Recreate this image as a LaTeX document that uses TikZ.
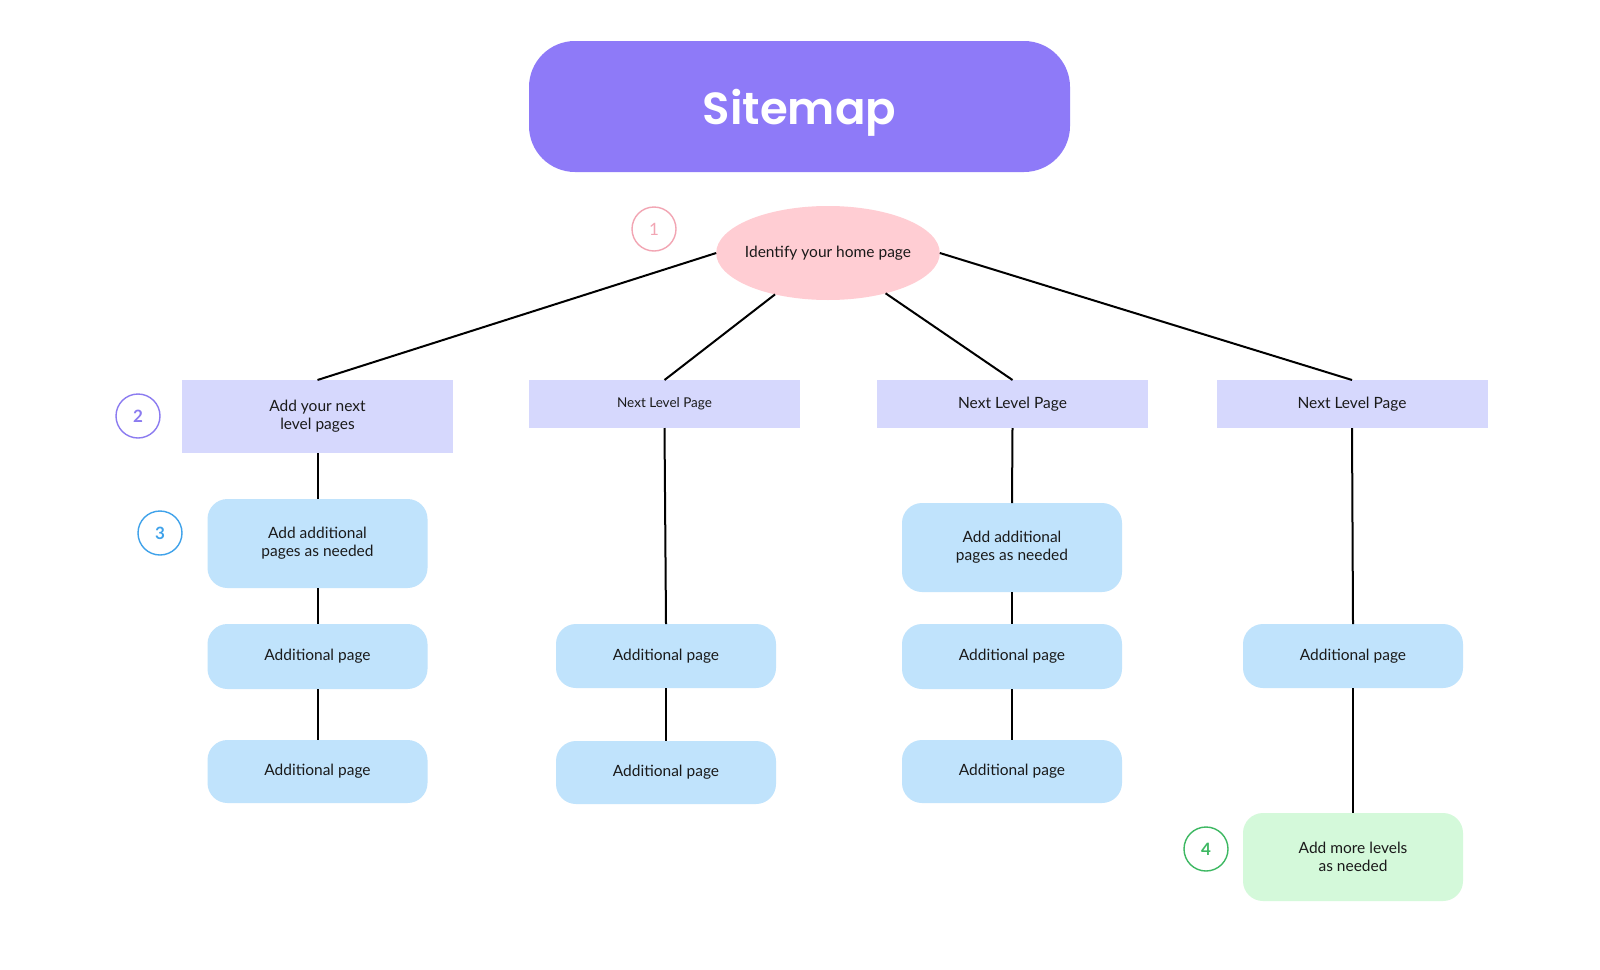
\documentclass[tikz,border=0pt]{standalone}
\usepackage{fontspec}
\setmainfont{Lato}
\IfFontExistsTF{Poppins SemiBold}{\newfontfamily\titlefont{Poppins SemiBold}\newcommand\titleweight{}}{\newfontfamily\titlefont{Poppins}\newcommand\titleweight{\bfseries}}
\usetikzlibrary{shapes.geometric}
\definecolor{titlebg}{HTML}{8E7AF8}
\definecolor{homebg}{HTML}{FFCDD3}
\definecolor{levelbg}{HTML}{D6D8FD}
\definecolor{pagebg}{HTML}{C0E3FC}
\definecolor{greenbg}{HTML}{D4F9DA}
\definecolor{ink}{HTML}{1A1A1A}
\definecolor{cpink}{HTML}{F2A5B3}
\definecolor{cpurple}{HTML}{8B7BF0}
\definecolor{cblue}{HTML}{3FA2EA}
\definecolor{cgreen}{HTML}{3DB862}
\begin{document}
\begin{tikzpicture}[x=1pt,y=-1pt,
  every node/.style={inner sep=0pt, outer sep=0pt, text=ink, font=\fontsize{15.5}{18}\selectfont, align=center},
  conn/.style={draw=black, line width=2pt},
  levelbox/.style={rectangle, fill=levelbg, minimum width=271pt},
  pagebox/.style={rectangle, rounded corners=20pt, fill=pagebg, minimum width=220pt},
  numcircle/.style={circle, draw=#1, line width=1.4pt, minimum size=44pt, text=#1, font=\fontsize{17}{20}\selectfont\bfseries}
]
\useasboundingbox[fill=white] (0,0) rectangle (1600,969);

\node[rectangle, rounded corners=46pt, fill=titlebg, minimum width=541pt, minimum height=131pt, text depth=0pt, text=white, font=\titlefont\titleweight\fontsize{45}{50}\selectfont] (title) at (799.5,106.5) {Sitemap};

\node[ellipse, fill=homebg, inner xsep=-4pt, minimum width=220pt, minimum height=94pt] (home) at (828,253) {Identify your home page};
\node[numcircle=cpink, font=\fontsize{17}{20}\selectfont] (n1) at (654,229) {1};

\node[levelbox, minimum height=73pt] (l1) at (317.5,416.5) {Add your next\\level pages};
\node[levelbox, minimum height=48pt, font=\fontsize{13.5}{16}\selectfont] (l2) at (664.5,404) {Next Level Page};
\node[levelbox, minimum height=48pt] (l3) at (1012.5,404) {Next Level Page};
\node[levelbox, minimum height=48pt] (l4) at (1352,404) {Next Level Page};
\node[numcircle=cpurple] (n2) at (138,416) {2};

\node[pagebox, minimum height=89pt] (c1a) at (317.5,543.5) {Add additional\\pages as needed};
\node[pagebox, minimum height=65pt] (c1b) at (317.5,656.5) {Additional page};
\node[pagebox, minimum height=63pt] (c1c) at (317.5,771.5) {Additional page};
\node[numcircle=cblue] (n3) at (160,533) {3};

\node[pagebox, minimum height=64pt] (c2b) at (666,656) {Additional page};
\node[pagebox, minimum height=63pt] (c2c) at (666,772.5) {Additional page};

\node[pagebox, minimum height=89pt] (c3a) at (1012,547.5) {Add additional\\pages as needed};
\node[pagebox, minimum height=65pt] (c3b) at (1012,656.5) {Additional page};
\node[pagebox, minimum height=63pt] (c3c) at (1012,771.5) {Additional page};

\node[pagebox, minimum height=64pt] (c4b) at (1353,656) {Additional page};
\node[rectangle, rounded corners=20pt, fill=greenbg, minimum width=220pt, minimum height=88pt] (c4d) at (1353,857) {Add more levels\\as needed};
\node[numcircle=cgreen] (n4) at (1206,849) {4};

\draw[conn] (home.west) -- (l1.north);
\draw[conn] (home.218) -- (l2.north);
\draw[conn] (home.325) -- (l3.north);
\draw[conn] (home.east) -- (l4.north);

\draw[conn] (l1.south) -- (c1a.north);
\draw[conn] (c1a.south) -- (c1b.north);
\draw[conn] (c1b.south) -- (c1c.north);

\draw[conn] (l2.south) -- (c2b.north);
\draw[conn] (c2b.south) -- (c2c.north);

\draw[conn] (l3.south) -- (c3a.north);
\draw[conn] (c3a.south) -- (c3b.north);
\draw[conn] (c3b.south) -- (c3c.north);

\draw[conn] (l4.south) -- (c4b.north);
\draw[conn] (c4b.south) -- (c4d.north);
\end{tikzpicture}
\end{document}
